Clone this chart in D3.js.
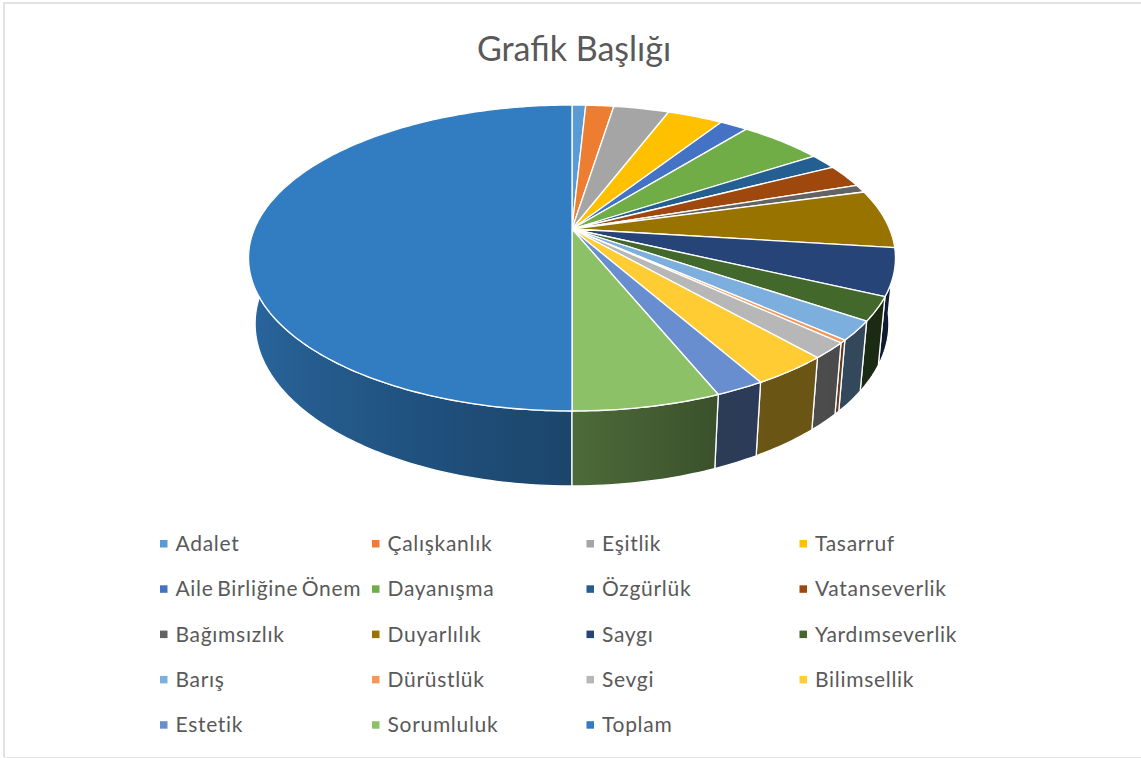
<!DOCTYPE html>
<html>
<head>
<meta charset="utf-8">
<style>
  body { margin: 0; background: #fff; }
  text { font-family: Lato, sans-serif; fill: #595959; }
</style>
<script src="https://cdn.jsdelivr.net/npm/d3@7"></script>
</head>
<body>
<div id="chart"></div>
<script>
const categories = ["Adalet", "Çalışkanlık", "Eşitlik", "Tasarruf", "Aile Birliğine Önem", "Dayanışma",
    "Özgürlük", "Vatanseverlik", "Bağımsızlık", "Duyarlılık", "Saygı", "Yardımseverlik",
    "Barış", "Dürüstlük", "Sevgi", "Bilimsellik", "Estetik", "Sorumluluk", "Toplam"];
// share of the whole pie (percent)
const shares = [0.82, 1.68, 3.33, 3.33, 1.68, 5.01, 1.64, 2.44, 0.83, 6.2, 4.97, 2.5,
    2.03, 0.31, 1.69, 3.28, 2.06, 6.2, 50];
const colors = ["#5B9BD5", "#ED7D31", "#A5A5A5", "#FFC000", "#4472C4", "#70AD47", "#255E91", "#9E480E",
    "#636363", "#997300", "#264478", "#43682B", "#7CAFDD", "#F1975A", "#B7B7B7", "#FFCD33",
    "#698ED0", "#8CC168", "#327DC2"];

const width = 1141, height = 758;

const svg = d3.select("#chart").append("svg")
    .attr("width", width)
    .attr("height", height);

// chart frame: only top and left show strongly in the picture
svg.append("path")
    .attr("d", "M4,757V3H1141")
    .attr("fill", "none")
    .attr("stroke", "#d9d9d9")
    .attr("stroke-width", 1.5);
svg.append("path")
    .attr("d", "M4,757.5H1141")
    .attr("stroke", "#e6e6e6")
    .attr("stroke-width", 1);

svg.append("text")
    .attr("x", 574).attr("y", 60.5)
    .attr("text-anchor", "middle")
    .attr("font-size", "34px")
    .text("Grafik Başlığı");

// perspective view of the disc, excel style 3D pie
const view = { cx: 572, cy: 229, a: 317.6, b: 147.5, k: 0.1895, drop: 65.9, m: 0.02 };

function project(angle, z) {
    const u = Math.sin(angle), v = Math.cos(angle);
    const d = 1 + view.k * v + view.m * z;
    return [view.cx + view.a * u / d, view.cy + (z * view.drop - view.b * v) / d];
}

const arcs = d3.pie().sort(null).value(d => d)(shares)
    .map((d, i) => ({ start: d.startAngle, end: d.endAngle, name: categories[i], color: colors[i], index: i }));

const line = d3.line();
const arcPoints = (d, z) => d3.range(0, 1.0001, 1 / Math.max(2, Math.ceil((d.end - d.start) * 60)))
    .map(t => project(d.start + (d.end - d.start) * t, z));

// how dark the wall gets, by angle around the pie
const shade = d3.scaleLinear()
    .domain([0, 100, 158, 180, 220, 270, 360])
    .range([0.4, 0.4, 0.42, 0.55, 0.72, 0.88, 0.88]);

const defs = svg.append("defs");
arcs.forEach(d => {
    const from = Math.max(d.start, 100 * Math.PI / 180);
    const to = Math.min(d.end, 270 * Math.PI / 180);
    const grad = defs.append("linearGradient")
        .attr("id", "wall" + d.index)
        .attr("gradientUnits", "userSpaceOnUse")
        .attr("x1", project(from, 0)[0]).attr("y1", 0)
        .attr("x2", project(to, 0)[0]).attr("y2", 0);
    if (to <= from) return;
    d3.range(0, 1.001, 0.1).forEach(t => {
        const ang = from + (to - from) * t;
        const p = project(ang, 0);
        const off = (p[0] - project(from, 0)[0]) / (project(to, 0)[0] - project(from, 0)[0]);
        grad.append("stop")
            .attr("offset", off)
            .attr("stop-color", d3.rgb(d3.interpolateRgb("#000", d.color)(shade(ang * 180 / Math.PI))));
    });
});

const pieGroup = svg.append("g").style("filter", "blur(0.35px)");

// walls first, the ones nearest the front go last
const wallOrder = arcs.slice()
    .sort((p, q) => Math.abs(q.start + q.end - 2 * Math.PI) - Math.abs(p.start + p.end - 2 * Math.PI));

pieGroup.append("g").selectAll("path")
    .data(wallOrder)
    .join("path")
    .attr("d", d => line(arcPoints(d, 0).concat(arcPoints(d, 1).reverse())) + "Z")
    .attr("fill", d => `url(#wall${d.index})`)
    .attr("stroke", "#fff")
    .attr("stroke-width", 1.3)
    .attr("stroke-linejoin", "round");

pieGroup.append("g").selectAll("path")
    .data(arcs)
    .join("path")
    .attr("d", d => line([[view.cx, view.cy]].concat(arcPoints(d, 0))) + "Z")
    .attr("fill", d => d.color)
    .attr("stroke", "#fff")
    .attr("stroke-width", 1.3)
    .attr("stroke-linejoin", "round");

// legend, 4 columns
const legendColumns = [160, 372, 586.5, 799.5];

const legend = svg.append("g").selectAll("g")
    .data(arcs)
    .join("g")
    .attr("transform", (d, i) => `translate(${legendColumns[i % 4]},${543.5 + Math.floor(i / 4) * 45.3})`);

legend.append("rect")
    .attr("x", 0).attr("y", -3.5)
    .attr("width", 7.5).attr("height", 7.5)
    .attr("fill", d => d.color);

legend.append("text")
    .attr("x", 15.5).attr("y", 7.5)
    .attr("font-size", "21px")
    .attr("letter-spacing", "0.7px")
    .attr("word-spacing", "-2.5px")
    .text(d => d.name);
</script>
</body>
</html>
